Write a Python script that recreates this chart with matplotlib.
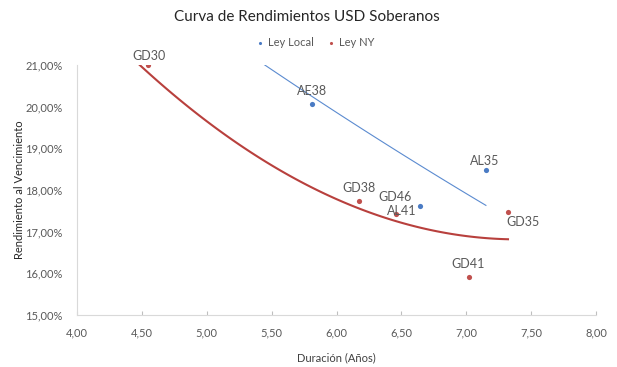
import matplotlib
matplotlib.use("Agg")
import matplotlib.pyplot as plt
import numpy as np
from matplotlib.ticker import FuncFormatter, MultipleLocator

plt.rcParams['font.family'] = ['Lato', 'DejaVu Sans']

# Data
local_names = ["AE38", "AL35", "AL41"]
local_dur = [5.81, 7.15, 6.64]
local_ytm = [20.07, 18.47, 17.62]

ny_names = ["GD30", "GD38", "GD46", "GD35", "GD41"]
ny_dur = [4.546, 6.17, 6.46, 7.32, 7.02]
ny_ytm = [21.00, 17.73, 17.42, 17.48, 15.90]

# Trend lines (sample points)
local_trend_x = [5.43, 5.81, 6.10, 6.41, 6.80, 7.15]
local_trend_y = [21.02, 20.30, 19.64, 19.00, 18.33, 17.62]
ny_trend_x = [4.48, 5.43, 5.56, 6.59, 7.10, 7.32]
ny_trend_y = [21.02, 18.75, 18.44, 17.16, 16.87, 16.80]

# label offsets in pixels (dx, dy)
local_offsets = [(0, 13), (-1, 9), (-18, -5)]
ny_offsets = [(1, 9), (0, 13), (-1, 17), (15, -10), (-1, 13)]

BLUE = "#4a7bc4"
RED = "#c0504d"
GRAY = "#595959"

fig = plt.figure(figsize=(6.17, 3.67), dpi=100)
ax = fig.add_axes([0.1243, 0.1417, 0.9665 - 0.1243, 0.8229 - 0.1417])

# trend lines
cl = np.polyfit(local_trend_x, local_trend_y, 2)
xl = np.linspace(min(local_trend_x), max(local_trend_x), 100)
ax.plot(xl, np.polyval(cl, xl), color="#5b8bd0", lw=0.8, zorder=2)
cn = np.polyfit(ny_trend_x, ny_trend_y, 2)
xn = np.linspace(min(ny_trend_x), max(ny_trend_x), 100)
ax.plot(xn, np.polyval(cn, xn), color="#b8403d", lw=1.5, zorder=2)

ax.scatter(local_dur, local_ytm, s=14, color=BLUE, zorder=3, label="Ley Local", linewidths=0)
ax.scatter(ny_dur, ny_ytm, s=14, color=RED, zorder=3, label="Ley NY", linewidths=0)

for n, x, y, (dx, dy) in zip(local_names, local_dur, local_ytm, local_offsets):
    ax.annotate(n, (x, y), xytext=(dx, dy), textcoords="offset pixels",
                ha="center", va="center", fontsize=9, color=GRAY, zorder=4)
for n, x, y, (dx, dy) in zip(ny_names, ny_dur, ny_ytm, ny_offsets):
    ax.annotate(n, (x, y), xytext=(dx, dy), textcoords="offset pixels",
                ha="center", va="center", fontsize=9, color=GRAY, zorder=4)

ax.set_xlim(4, 8)
ax.set_ylim(15, 21)
ax.xaxis.set_major_locator(MultipleLocator(0.5))
ax.yaxis.set_major_locator(MultipleLocator(1))
ax.xaxis.set_major_formatter(FuncFormatter(lambda v, p: f"{v:.2f}".replace(".", ",")))
ax.yaxis.set_major_formatter(FuncFormatter(lambda v, p: f"{v:.2f}".replace(".", ",") + "%"))

for s in ["top", "right"]:
    ax.spines[s].set_visible(False)
ax.spines["left"].set_color("#d9d9d9")
ax.spines["bottom"].set_color("#d9d9d9")
ax.tick_params(axis="x", direction="in", length=3, color="#bfbfbf", labelsize=8, labelcolor=GRAY, pad=9)
ax.tick_params(axis="y", length=0, labelsize=8, labelcolor=GRAY, pad=10)

ax.set_xlabel("Duración (Años)", fontsize=8, color="#404040", labelpad=10)
ax.set_ylabel("Rendimiento al Vencimiento", fontsize=8, color="#262626", labelpad=0)

fig.text(0.4976, 1 - 17 / 367, "Curva de Rendimientos USD Soberanos", ha="center", va="center",
         fontsize=11, color="#262626")

leg = fig.legend(loc="center", bbox_to_anchor=(0.505, 1 - 42 / 367), ncol=2, frameon=False,
                 fontsize=8, handletextpad=-0.3, columnspacing=0.6, markerscale=0.6)
for t in leg.get_texts():
    t.set_color(GRAY)

fig.savefig("out.png", dpi=100)
